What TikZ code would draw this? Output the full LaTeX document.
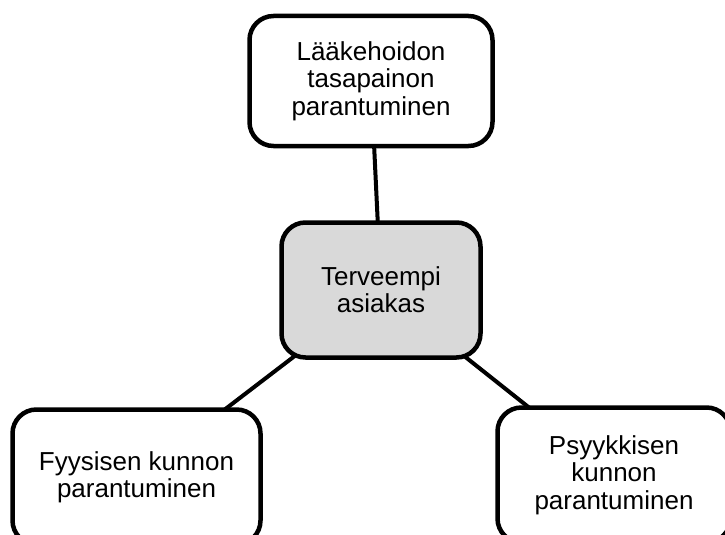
\documentclass[tikz,border=0pt]{standalone}
\usepackage{fontspec}
\setmainfont{Liberation Sans}
\usetikzlibrary{backgrounds}
\definecolor{boxgray}{RGB}{217,217,217}

\begin{document}
\begin{tikzpicture}[x=1pt, y=-1pt,
    goalbox/.style={draw=black, line width=4.5pt, rounded corners=24pt,
        fill=white, inner sep=0pt, align=center,
        font=\fontsize{26}{27.3}\selectfont},
    link/.style={draw=black, line width=4pt}]
    % Picture area, the lower boxes run past its edge
    \clip (0, 0) rectangle (725, 535);
    % Centre box
    \node[goalbox, fill=boxgray, minimum width=199pt, minimum height=135pt]
        (asiakas) at (381, 290) {Terveempi\\asiakas};
    % Outer boxes
    \node[goalbox, minimum width=243pt, minimum height=130pt]
        (laake) at (371, 81) {Lääkehoidon\\tasapainon\\parantuminen};
    \node[goalbox, minimum width=248pt, minimum height=135pt]
        (fyysinen) at (136.5, 477) {Fyysisen kunnon\\parantuminen};
    \node[goalbox, minimum width=233pt, minimum height=135pt]
        (psyykkinen) at (614, 475) {Psyykkisen\\kunnon\\parantuminen};
    % Connectors behind the boxes
    \begin{scope}[on background layer]
        \draw[link] (laake.center) -- (asiakas.center);
        \draw[link] (fyysinen.center) -- (asiakas.center);
        \draw[link] (psyykkinen.center) -- (asiakas.center);
    \end{scope}
\end{tikzpicture}
\end{document}
